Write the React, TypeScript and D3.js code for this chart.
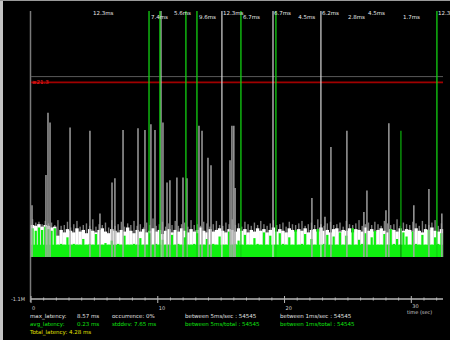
import * as d3 from 'd3'

// latency samples, one value per 0.25 s bin (units of the y axis)
const binSec = 0.25
const grayMax = [
  4.6, 4.2, 4.3, 4.0, 4.4, 4.1, 4.2, 3.9, 4.5, 3.8,
  3.9, 4.3, 3.6, 4.0, 4.4, 3.7, 3.9, 4.1, 3.8, 4.6,
  3.7, 4.0, 3.9, 4.2, 3.6, 4.5, 3.8, 4.0, 4.3, 3.7,
  4.1, 3.9, 4.4, 3.8, 4.0, 3.6, 4.2, 3.9, 4.7, 3.8,
  4.0, 4.3, 3.7, 4.1, 3.9, 4.4, 3.8, 4.0, 4.2, 3.7,
  4.5, 3.9, 4.0, 3.8, 4.3, 4.1, 3.7, 4.0, 4.4, 3.9,
  3.8, 4.2, 4.0, 4.6, 3.9, 4.1, 3.7, 4.3, 4.0, 3.8,
  4.2, 3.9, 4.4, 4.0, 3.8, 4.1, 4.5, 3.9, 4.0, 4.2,
  3.7, 4.3, 4.0, 3.9, 4.1, 4.4, 3.8, 4.0, 4.2, 3.9,
  4.6, 4.0, 3.8, 4.1, 4.3, 3.9, 4.0, 4.2, 3.7, 4.4,
  4.0, 3.9, 4.1, 4.5, 3.8, 4.0, 4.2, 3.9, 4.3, 4.0,
  3.8, 4.4, 4.1, 3.9, 4.0, 4.6, 3.8, 4.2, 4.0, 3.9,
  4.3, 4.1, 3.8, 4.4, 4.0, 3.9, 4.2, 4.5, 3.8, 4.1,
]
const whiteMid = [
  3.9, 3.8, 4.0, 3.7, 3.9, 3.8, 3.6, 3.7,
  2.6, 3.3, 3.0, 3.4, 3.2, 3.0, 3.5, 3.1, 3.3, 2.9,
  3.4, 3.2, 3.0, 3.3, 3.5, 3.1, 2.9, 3.4, 3.2, 3.0,
  3.3, 3.1, 3.6, 3.2, 2.9, 3.3, 3.1, 3.4, 3.0, 3.2,
  3.5, 3.1, 3.3, 2.8, 3.2, 3.4, 3.0, 3.3, 3.1, 3.5,
  3.2, 3.0, 3.4, 3.1, 3.3, 3.6, 3.2, 3.0, 3.4, 3.1,
  3.3, 3.5, 3.2, 3.0, 3.4, 3.3, 3.1, 3.5, 3.2, 3.4,
  3.0, 3.3, 3.1, 3.5, 3.2, 3.4, 3.0, 3.3, 3.6, 3.1,
  3.4, 3.2, 3.0, 3.5, 3.3, 3.1, 3.4, 3.2, 3.5, 3.0,
  3.3, 3.4, 3.1, 3.6, 3.2, 3.3, 3.0, 3.4, 3.5, 3.1,
  3.3, 3.2, 3.5, 3.0, 3.4, 3.3, 3.1, 3.6, 3.2, 3.4,
  3.1, 3.3, 3.5, 3.2, 3.0, 3.4, 3.3, 3.1, 3.5, 3.2,
  3.4, 3.3, 3.1, 3.5, 3.2, 3.0, 3.4, 3.3, 3.6, 3.2,
  3.1, 3.4,
]
const greenAvg = [
  3.5, 3.2, 3.6, 3.3, 3.7, 3.4, 3.2, 3.5,
  1.5, 1.6, 1.5, 2.4, 1.5, 1.6, 1.5, 1.5, 2.2, 1.5,
  1.6, 1.5, 2.8, 1.5, 1.5, 1.7, 1.5, 2.0, 1.5, 1.6,
  1.5, 2.6, 1.5, 1.5, 1.6, 1.5, 2.3, 1.5, 1.5, 2.9,
  1.5, 1.6, 1.5, 2.1, 1.5, 1.5, 2.7, 1.5, 1.6, 1.5,
  2.4, 1.5, 1.5, 1.6, 2.9, 1.5, 1.5, 2.2, 1.5, 1.6,
  1.5, 2.5, 1.5, 1.5, 3.1, 1.5, 1.6, 2.0, 1.5, 2.7,
  1.5, 1.5, 2.3, 1.6, 1.5, 3.0, 1.5, 2.6, 1.5, 1.5,
  2.9, 1.6, 1.5, 2.4, 1.5, 3.3, 1.5, 1.6, 2.8, 1.5,
  2.2, 1.5, 3.4, 1.5, 1.6, 2.7, 1.5, 2.5, 1.5, 3.0,
  1.5, 2.6, 1.5, 3.5, 1.5, 2.1, 1.6, 2.9, 1.5, 2.4,
  3.2, 1.5, 1.5, 2.8, 1.5, 3.4, 1.6, 2.2, 1.5, 3.0,
  2.5, 1.5, 3.1, 1.6, 1.5, 2.7, 1.5, 3.3, 1.5, 2.4,
  1.6, 2.9,
]

// single tall samples (time s, value)
const spikeTime = [
  0.08, 1.18, 1.34, 1.5, 3.08, 4.65, 5.44, 6.39, 6.62, 7.26, 8.44, 8.99, 9.46, 9.78,
  10.41, 10.73, 10.96, 11.51, 11.99, 12.3, 13.25, 13.49, 13.96, 14.2, 15.7, 15.85,
  16.0, 16.1, 22.16, 23.19, 23.66, 24.92, 26.26, 26.5, 28.0, 28.23, 30.2, 31.39, 32.41,
]
const spikeValue = [
  6.3, 10.0, 17.6, 16.4, 15.8, 15.4, 5.3, 9.1, 9.6, 15.5, 15.7, 15.5, 16.2, 15.5,
  16.4, 9.1, 9.35, 9.7, 9.7, 9.6, 16.0, 15.4, 12.1, 11.2, 11.8, 16.0,
  16.0, 8.4, 7.2, 4.9, 13.4, 15.4, 5.5, 8.1, 5.7, 16.3, 6.3, 8.3, 5.3,
]
const greenSpikeTime = [29.18]
const greenSpikeValue = [15.4]

// samples off the top of the scale
const greenPeakTime = [9.31, 10.17, 12.22, 13.09, 16.56, 19.32, 32.02]
const whitePeakTime = [10.25, 15.06, 19.09, 22.87]
const peakLabelTime = [4.81, 9.38, 11.2, 13.17, 15.06, 16.64, 19.09, 21.0, 22.87, 24.92, 26.5, 29.26, 32.02]
const peakLabelText = ['12.3ms', '7.4ms', '5.6ms', '9.6ms', '12.3ms', '6.7ms', '6.7ms', '4.5ms', '6.2ms', '2.8ms', '4.5ms', '1.7ms', '12.3']

const thresholdValue = 21.3
const maxLineValue = 22.0
const xTickLabels = [0, 10, 20, 30]

const statWhite = ['max_latency:', '8.57 ms', 'occurrence: 0%', 'between 5ms/sec  :  54545', 'between 1ms/sec  :  54545']
const statGreen = ['avg_latency:', '0.23 ms', 'stddev: 7.65 ms', 'between 5ms/total :  54545', 'between 1ms/total :  54545']
const statYellow = ['Total_latency: 4.28 ms']

const W = 450
const H = 340
const font = 'DejaVu Sans, sans-serif'

export default function App() {
  const x = d3.scaleLinear().domain([0, 32.5]).range([31, 443])
  const y = d3.scaleLinear().domain([0, 30]).range([257, 11])
  const bw = x(binSec) - x(0)
  const axisY = 299
  const statX = [30, 77, 112, 185, 280]

  const bars = (vals: number[], color: string, wid: number) =>
    vals.map((v, i) => (
      <rect key={i} x={x(i * binSec) + (bw - wid) / 2} y={y(v)} width={wid} height={y(0) - y(v)} fill={color} />
    ))

  return (
    <svg width={W} height={H} style={{ position: 'absolute', left: 0, top: 0, background: '#000' }}
      fontFamily={font}>
      <rect x={0} y={0} width={W} height={H} fill="#000" />
      <rect x={0} y={0} width={3} height={H} fill="#c4c4c4" />
      <rect x={0} y={0} width={W} height={1} fill="#9a9a9a" />

      {/* left axis */}
      <line x1={30.5} x2={30.5} y1={y(30)} y2={axisY + 3} stroke="#7a7a7a" strokeWidth={1.5} />

      {/* reference lines */}
      <line x1={x(0)} x2={x(32.5)} y1={y(maxLineValue)} y2={y(maxLineValue)} stroke="#5a5a5a" strokeWidth={1} />
      <line x1={x(0)} x2={x(32.5)} y1={y(thresholdValue)} y2={y(thresholdValue)} stroke="#a00000" strokeWidth={1.6} />
      <text x={x(0) + 1} y={y(thresholdValue) + 2} fontSize={5.5} fill="#ff2020">{`≥${thresholdValue}`}</text>

      {/* noise band */}
      {bars(grayMax, '#7c7c7c', 1.4)}
      {bars(whiteMid, '#ffffff', bw + 0.3)}
      {bars(greenAvg, '#10f010', bw * 0.7)}
      {/* solid floor of the green band */}
      <rect x={x(0)} y={y(d3.min(greenAvg) as number)} width={x(greenAvg.length * binSec) - x(0)}
        height={y(0) - y(d3.min(greenAvg) as number)} fill="#10f010" />

      {/* spikes */}
      {spikeTime.map((t, i) => (
        <line key={i} x1={x(t)} x2={x(t)} y1={y(0)} y2={y(spikeValue[i])} stroke="#a8a8a8" strokeWidth={1.4} />
      ))}
      {greenSpikeTime.map((t, i) => (
        <line key={i} x1={x(t)} x2={x(t)} y1={y(0)} y2={y(greenSpikeValue[i])} stroke="#0a9a0a" strokeWidth={1.4} />
      ))}
      {whitePeakTime.map((t, i) => (
        <line key={i} x1={x(t)} x2={x(t)} y1={y(0)} y2={y(30)} stroke="#d8d8d8" strokeWidth={1.2} />
      ))}
      {greenPeakTime.map((t, i) => (
        <line key={i} x1={x(t)} x2={x(t)} y1={y(0)} y2={y(30)} stroke="#12d012" strokeWidth={1.3} />
      ))}
      {peakLabelTime.map((t, i) => (
        <text key={i} x={x(t) + 1} y={i % 2 === 0 ? 15 : 19} fontSize={5.5} fill="#e8e8e8">{peakLabelText[i]}</text>
      ))}

      {/* x axis */}
      <line x1={x(0)} x2={x(32.5)} y1={axisY} y2={axisY} stroke="#b8b8b8" strokeWidth={1.5} />
      {d3.range(0, 33).map(t => (
        <line key={t} x1={x(t)} x2={x(t)} y1={axisY - (t % 10 === 0 ? 3 : 1.5)} y2={axisY + (t % 10 === 0 ? 4 : 1.5)}
          stroke="#b8b8b8" strokeWidth={1} />
      ))}
      {xTickLabels.map(t => (
        <text key={t} x={x(t) + 1} y={t === 30 ? 308 : 310} fontSize={5} fill="#d0d0d0">{t}</text>
      ))}
      <text x={407} y={314} fontSize={5} fill="#d0d0d0">time (sec)</text>
      <text x={25} y={301} fontSize={5} fill="#d0d0d0" textAnchor="end">-1.1M</text>

      {/* stats */}
      {statWhite.map((s, i) => (
        <text key={i} x={statX[i]} y={318} fontSize={5.5} fill="#e0e0e0">{s}</text>
      ))}
      {statGreen.map((s, i) => (
        <text key={i} x={statX[i]} y={326} fontSize={5.5} fill="#10e010">{s}</text>
      ))}
      {statYellow.map((s, i) => (
        <text key={i} x={statX[i]} y={334} fontSize={5.5} fill="#e0e000">{s}</text>
      ))}
    </svg>
  )
}
